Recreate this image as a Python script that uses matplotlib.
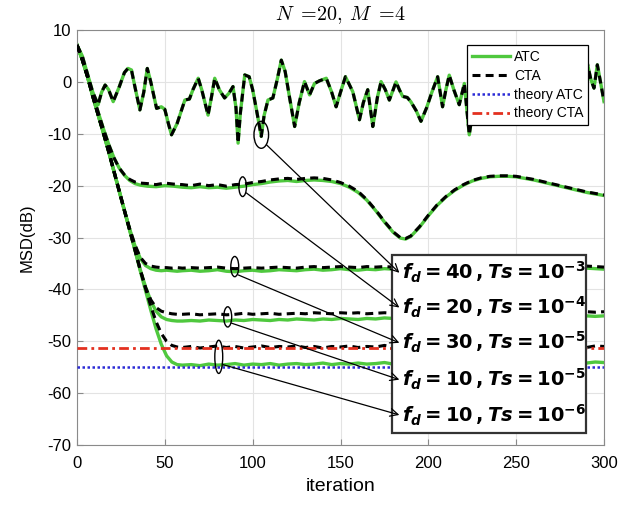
import matplotlib
matplotlib.use("Agg")
import matplotlib.pyplot as plt
from matplotlib.patches import Ellipse, Rectangle

plt.rcParams['font.family'] = ['Liberation Sans', 'DejaVu Sans']
plt.rcParams['axes.unicode_minus'] = False
plt.rcParams['mathtext.fontset'] = 'custom'
plt.rcParams['mathtext.rm'] = 'DejaVu Sans:bold'
plt.rcParams['mathtext.it'] = 'DejaVu Sans:bold:italic'
plt.rcParams['mathtext.bf'] = 'DejaVu Sans:bold'

# ---------------- data ----------------
x_hi = [0, 3, 6, 9, 12, 14, 16, 18, 20.6, 24, 27, 29, 31, 33, 35.8, 38, 40, 42, 45.3, 48,
        50, 52, 53.8, 57, 61.4, 64, 66, 69, 71, 74.6, 76.5, 78.4, 81, 84, 86.5, 88.8, 90.5, 91.7, 93, 95.5,
        98, 100, 102.5, 104.9, 106.5, 108.7, 111.5, 114, 116.3, 118.5, 121, 123.9, 126.5, 129.5, 132.4, 135.2, 138, 141.9, 145, 147.5,
        150, 152.8, 155, 157, 160.8, 163, 165.5, 168.4, 171, 173.1, 175.5, 177.8, 180, 181.6, 183.5, 185.4, 188, 190, 193, 195.8,
        199, 202, 205.3, 208.1, 210, 211.9, 214.5, 217.6, 220.5, 223.3, 226, 230, 234, 238, 242, 246, 250, 254,
        258, 262, 266, 270, 274, 278, 282, 286, 290.5, 292.5, 294.3, 296.2, 298, 300]
c1_y = [7.1, 5.0, 1.5, -2.0, -4.4, -2.0, -0.6, -1.5, -3.8, -1.0, 1.8, 2.6, 2.3, -1.0, -5.4, -2.0, 2.6, 0.0, -5.1, -4.8,
        -5.3, -8.0, -10.2, -8.0, -3.5, -3.3, -1.5, 0.7, -1.5, -6.4, -3.0, 0.7, -1.5, -3.1, -2.2, -0.9, -5.0, -11.8, -6.0, 1.35,
        1.0, -1.5, -6.0, -10.5, -6.5, -3.5, -3.1, 0.5, 4.2, 2.0, -3.0, -8.6, -4.0, 0.06, -2.5, -0.3, 0.2, 0.7, -2.0, -4.8,
        -2.0, 1.0, -0.5, -1.9, -7.3, -4.0, -1.5, -8.6, -3.0, 0.06, -1.5, -3.5, -1.5, 0.0, -1.5, -2.8, -3.0, -3.8, -5.5, -7.6,
        -5.0, -2.0, 1.0, -4.8, -1.5, 1.3, -1.5, -4.4, -0.3, -10.2, -4.0, 0.5, -3.0, -6.0, -1.0, 1.5, -2.0, -7.0,
        -3.0, 0.0, -4.0, -1.0, 2.0, -2.0, -5.0, -1.0, 3.6, 0.5, -1.2, 3.3, 0.0, -3.8]

x_mid = [0, 3, 6, 9, 12, 15, 18, 21, 24, 27, 30, 33, 36,
         40, 45, 50, 55, 60, 65, 70, 75, 80, 85, 90, 95, 100, 105, 110, 115, 120, 125, 130, 135, 140, 145,
         150, 155, 160, 165, 170, 175, 180, 184, 187, 190,
         195, 200, 205, 210, 215, 220, 225, 230, 235, 240, 245, 250, 255, 260, 265, 270, 275, 280, 285, 290, 295, 300]
c2_atc = [7.1, 4.3, 1.0, -2.5, -5.8, -9.0, -12.0, -14.6, -16.6, -18.0, -19.0, -19.6, -19.9,
          -20.1, -20.2, -20.0, -20.1, -20.3, -20.4, -20.2, -20.4, -20.3, -20.5, -20.3, -20.1, -19.8, -19.6, -19.3, -19.1, -19.0, -19.2, -19.0, -18.9, -19.0, -19.2,
          -19.6, -20.3, -21.3, -22.8, -24.8, -27.0, -29.0, -30.1, -30.3, -29.8,
          -28.0, -25.8, -23.8, -22.2, -20.9, -19.9, -19.1, -18.6, -18.3, -18.2, -18.2, -18.3, -18.6, -18.9, -19.3, -19.7, -20.1, -20.5, -20.9, -21.3, -21.6, -21.9]
c2_cta = [7.1, 4.3, 1.0, -2.5, -5.8, -9.0, -12.0, -14.6, -16.6, -17.9, -18.8, -19.3, -19.5,
          -19.6, -19.8, -19.5, -19.7, -19.8, -20.0, -19.7, -20.0, -19.8, -20.1, -19.8, -19.7, -19.4, -19.2, -18.9, -18.7, -18.6, -18.8, -18.6, -18.5, -18.6, -18.9,
          -19.4, -20.1, -21.1, -22.7, -24.7, -26.9, -28.9, -30.0, -30.2, -29.7,
          -27.9, -25.7, -23.7, -22.1, -20.8, -19.8, -19.0, -18.5, -18.2, -18.1, -18.1, -18.2, -18.5, -18.8, -19.2, -19.6, -20.0, -20.4, -20.8, -21.2, -21.5, -21.8]

x_low = [0, 3, 6, 9, 12, 15, 18, 21, 24, 27, 30, 33, 36, 39, 42, 45, 48, 51, 54, 57, 60,
         65, 70, 75, 80, 85, 90, 95, 100, 105, 110, 115, 120, 125, 130, 135, 140, 145, 150, 155, 160,
         165, 170, 175, 180, 185, 190, 195, 200, 205, 210, 215, 220, 225, 230, 235, 240, 245, 250, 255, 260,
         265, 270, 275, 280, 285, 290, 295, 300]
c3_atc = [7.1, 4.3, 1.0, -2.8, -6.3, -9.8, -13.4, -17.2, -21.0, -24.8, -28.4, -31.6, -34.0, -35.4, -36.0, -36.3, -36.4, -36.3, -36.4, -36.5, -36.4,
          -36.3, -36.5, -36.4, -36.2, -36.5, -36.6, -36.4, -36.3, -36.5, -36.4, -36.2, -36.3, -36.4, -36.2, -36.1, -36.3,
          -36.2, -36.0, -36.2, -36.3, -36.1, -36.2, -36.0, -36.1, -36.2, -36.1, -36.0, -36.2, -36.1, -36.0, -36.1, -36.2,
          -36.0, -36.1, -35.9, -36.1, -36.0, -36.2, -36.0, -36.1, -36.0, -35.9, -36.1, -36.0, -36.1, -35.9, -36.0, -36.1]
c3_cta = [7.1, 4.3, 1.0, -2.8, -6.3, -9.8, -13.4, -17.2, -21.0, -24.8, -28.3, -31.4, -33.8, -35.0, -35.5, -35.7, -35.8, -35.8, -35.9, -35.8, -35.9,
          -35.8, -35.9, -35.8, -35.7, -35.9, -36.0, -35.9, -35.8, -35.9, -35.8, -35.7, -35.8, -35.9, -35.7, -35.6, -35.8,
          -35.7, -35.6, -35.7, -35.8, -35.6, -35.7, -35.6, -35.7, -35.8, -35.7, -35.6, -35.7, -35.6, -35.6, -35.7, -35.8,
          -35.6, -35.7, -35.5, -35.7, -35.6, -35.7, -35.6, -35.7, -35.6, -35.5, -35.7, -35.6, -35.7, -35.5, -35.6, -35.7]
c4_atc = [7.1, 4.3, 1.0, -2.8, -6.3, -9.8, -13.4, -17.2, -21.0, -24.8, -28.6, -32.4, -36.2, -39.5, -42.2, -44.2, -45.3, -45.8, -46.0, -46.1, -46.1,
          -46.0, -46.1, -45.9, -46.0, -46.1, -45.9, -46.0, -45.8, -45.9, -46.0, -45.8, -45.9, -45.7, -45.8, -45.9, -45.7,
          -45.8, -45.6, -45.7, -45.8, -45.6, -45.7, -45.5, -45.6, -45.7, -45.5, -45.6, -45.4, -45.5, -45.6, -45.4, -45.5,
          -45.3, -45.4, -45.5, -45.3, -45.4, -45.2, -45.3, -45.4, -45.2, -45.3, -45.1, -45.2, -45.3, -45.1, -45.2, -45.1]
c4_cta = [7.1, 4.3, 1.0, -2.8, -6.3, -9.8, -13.4, -17.2, -21.0, -24.8, -28.6, -32.4, -36.2, -39.6, -42.0, -43.5, -44.2, -44.5, -44.7, -44.8, -44.8,
          -44.7, -44.9, -44.8, -44.7, -44.9, -44.8, -44.6, -44.8, -44.7, -44.6, -44.8, -44.7, -44.6, -44.7, -44.5, -44.6,
          -44.7, -44.5, -44.6, -44.5, -44.7, -44.6, -44.5, -44.6, -44.4, -44.5, -44.6, -44.4, -44.5, -44.4, -44.6, -44.5,
          -44.4, -44.5, -44.3, -44.4, -44.5, -44.3, -44.4, -44.3, -44.5, -44.4, -44.3, -44.4, -44.2, -44.3, -44.4, -44.3]
c5_atc = [7.1, 4.3, 1.0, -2.8, -6.3, -9.8, -13.4, -17.2, -21.0, -24.8, -28.6, -32.4, -36.4, -40.2, -44.0, -47.6, -50.6, -52.8, -54.0, -54.5, -54.6,
          -54.5, -54.7, -54.4, -54.6, -54.5, -54.3, -54.6, -54.4, -54.5, -54.3, -54.6, -54.4, -54.3, -54.5, -54.4, -54.2,
          -54.5, -54.3, -54.4, -54.2, -54.4, -54.3, -54.1, -54.4, -54.2, -54.3, -54.1, -54.3, -54.2, -54.4, -54.1, -54.3,
          -54.2, -54.0, -54.3, -54.1, -54.2, -54.0, -54.2, -54.1, -54.3, -54.0, -54.2, -54.1, -53.9, -54.2, -54.0, -54.1]
c5_cta = [7.1, 4.3, 1.0, -2.8, -6.3, -9.8, -13.4, -17.2, -21.0, -24.8, -28.6, -32.4, -36.2, -39.8, -43.2, -46.2, -48.5, -50.0, -50.8, -51.1, -51.2,
          -51.0, -51.3, -51.1, -50.9, -51.2, -51.0, -51.3, -51.1, -50.9, -51.2, -51.0, -51.1, -50.9, -51.2, -51.0, -51.3,
          -51.0, -51.1, -50.9, -51.2, -51.0, -51.1, -50.8, -51.1, -51.0, -51.2, -50.9, -51.1, -51.0, -50.8, -51.1, -51.0,
          -51.2, -50.9, -51.1, -51.0, -50.8, -51.1, -51.0, -51.2, -50.9, -51.0, -51.1, -50.9, -51.0, -51.2, -50.9, -51.0]

theory_x = [0, 300]
theory_atc = -55.0
theory_cta = -51.3

labels = [r'$f_d = 40\,, Ts = 10^{-3}$', r'$f_d = 20\,, Ts = 10^{-4}$', r'$f_d = 30\,, Ts = 10^{-5}$',
          r'$f_d = 10\,, Ts = 10^{-5}$', r'$f_d = 10\,, Ts = 10^{-6}$']
# ellipse centres on the curves
ell_x = [104.9, 94.3, 89.8, 85.8, 80.7]
ell_y = [-10.2, -20.2, -35.6, -45.3, -53.0]

GREEN = '#4fc83e'
fig = plt.figure(figsize=(6.25, 5.09), dpi=100)
ax = fig.add_axes([0.1232, 0.1257, 0.8432, 0.8153])

lw_g = 2.4
lw_k = 2.2
dash = (2.6, 1.7)
ax.plot(x_hi, c1_y, color=GREEN, lw=lw_g, zorder=2, label='ATC')
ax.plot(x_mid, c2_atc, color=GREEN, lw=lw_g, zorder=2)
for ys in (c3_atc, c4_atc, c5_atc):
    ax.plot(x_low, ys, color=GREEN, lw=lw_g, zorder=2)
ax.plot(x_hi, c1_y, color='black', lw=lw_k, ls=(0, dash), zorder=3, label='CTA')
ax.plot(x_mid, c2_cta, color='black', lw=lw_k, ls=(0, dash), zorder=3)
for ys in (c3_cta, c4_cta, c5_cta):
    ax.plot(x_low, ys, color='black', lw=lw_k, ls=(0, dash), zorder=3)
ax.plot(theory_x, [theory_atc] * 2, color='#2b2bd6', lw=1.8, ls=(0, (1, 1)), zorder=4, label='theory ATC')
ax.plot(theory_x, [theory_cta] * 2, color='#e3301f', lw=2.0, ls=(0, (3.5, 1.5, 1, 1.5)), zorder=4, label='theory CTA')

ax.set_xlim(0, 300)
ax.set_ylim(-70, 10)
ax.set_xticks(range(0, 301, 50))
ax.set_yticks(range(-70, 11, 10))
ax.grid(True, color='#e3e3e3', lw=0.8)
ax.set_axisbelow(True)
for s in ax.spines.values():
    s.set_color('#8a8a8a')
ax.tick_params(direction='in', length=4, color='#8a8a8a', labelsize=12)
ax.tick_params(axis='x', pad=8)
ax.tick_params(axis='y', pad=4)
ax.set_xlabel('iteration', fontsize=14, labelpad=5)
ax.set_ylabel('MSD(dB)', fontsize=12, labelpad=9)
ax.set_title(r'$N\ =\!20,\,M\ =\!4$', fontsize=14.5, math_fontfamily='cm', pad=7)

leg = ax.legend(loc='upper right', bbox_to_anchor=(0.97, 0.964), fontsize=10, handlelength=2.7,
                handletextpad=0.3, labelspacing=0.35, borderpad=0.35, borderaxespad=0,
                fancybox=False, framealpha=1, edgecolor='black')
leg.get_frame().set_linewidth(0.9)
leg.set_zorder(10)

# annotation box
ax.add_patch(Rectangle((179.5, -67.6), 110.5, 34.3, facecolor='white', edgecolor='#333333', lw=1.6, zorder=6))
text_y = [-36.8, -43.5, -50.3, -57.4, -64.2]
ell_w = [8.3, 4.3, 4.5, 4.5, 4.5]
ell_h = [5.2, 3.8, 3.9, 3.9, 6.4]
arrow_start = [(107.8, -12.1), (96.4, -21.4), (91.7, -37.2), (87.9, -46.5), (83.1, -54.5)]
for i in range(5):
    ax.add_patch(Ellipse((ell_x[i], ell_y[i]), ell_w[i], ell_h[i], fill=False, edgecolor='black', lw=1.0, zorder=7))
    ax.annotate('', xy=(183.5, text_y[i]), xytext=arrow_start[i],
                arrowprops=dict(arrowstyle='->', color='black', lw=0.9, shrinkA=0, shrinkB=0,
                                mutation_scale=14), zorder=8)
    ax.text(185.2, text_y[i], labels[i], fontsize=14, va='center', ha='left', zorder=9)

fig.savefig('out.png', dpi=100)
